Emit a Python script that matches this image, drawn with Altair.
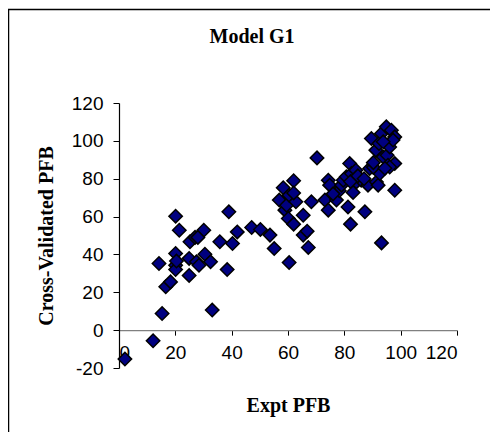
import altair as alt
import pandas as pd

expt = [2.1, 12.1, 15.3, 14.2, 16.6, 18.3, 20.1, 21.4, 20.1, 20.1, 20.1, 24.9, 24.9, 25.2,
        27.0, 27.5, 28.4, 30.1, 30.5, 32.5, 33.1, 35.8, 38.4, 39.0, 40.3, 42.0, 47.1, 50.2,
        53.6, 55.1, 56.9, 58.3, 58.9, 59.5, 60.1, 60.4, 60.4, 62.0, 62.0, 62.8, 62.0, 65.4,
        65.4, 66.8, 67.2, 68.3, 70.3, 73.1, 74.3, 74.3, 74.8, 77.2, 78.2, 79.0, 79.6, 80.7,
        81.3, 81.9, 82.2, 82.5, 83.1, 84.1, 84.3, 86.0, 87.3, 88.4, 89.0, 89.6, 91.2, 91.4,
        92.0, 92.6, 92.3, 93.2, 93.2, 93.8, 94.9, 95.2, 95.5, 96.1, 96.7, 97.9, 97.9, 97.9,
        97.3, 96.1, 90.3, 76.0, 82.2, 84.8, 87.0, 90.3, 93.8, 94.4, 28.0, 20.4]
cv = [-15.3, -5.6, 8.8, 35.2, 22.9, 25.5, 60.2, 52.8, 40.5, 34.3, 32.0, 28.9, 37.9, 46.7,
      49.0, 36.1, 34.3, 52.8, 40.1, 36.1, 10.6, 46.7, 32.0, 62.5, 45.8, 51.9, 54.2, 53.2,
      50.2, 43.1, 68.7, 75.2, 63.4, 66.0, 59.0, 35.7, 71.3, 56.0, 78.9, 67.8, 72.5, 60.7,
      50.2, 52.3, 43.7, 67.8, 91.0, 68.7, 79.2, 63.4, 76.6, 68.7, 73.6, 76.6, 79.2, 81.0,
      65.1, 88.0, 56.0, 82.7, 72.7, 84.5, 78.3, 79.2, 62.5, 76.6, 85.4, 101.2, 95.1, 78.3,
      76.6, 82.7, 98.6, 46.1, 103.9, 91.5, 107.4, 92.4, 87.1, 96.8, 105.6, 102.1, 88.0, 73.9,
      100.4, 86.2, 86.0, 72.0, 78.5, 81.5, 80.0, 88.5, 99.5, 85.5, 49.0, 36.5]

chart_title = "Model G1"

df = pd.DataFrame({"Expt PFB": expt, "Cross-Validated PFB": cv})

W, H = 338, 265
x_ticks = [0, 20, 40, 60, 80, 100, 120]
y_ticks = [-20, 0, 20, 40, 60, 80, 100, 120]

points = alt.Chart(df).mark_point(
    shape="diamond", filled=True, fill="#000080", stroke="black",
    strokeWidth=1.5, size=180, opacity=1, clip=False
).encode(
    x=alt.X("Expt PFB:Q",
            scale=alt.Scale(domain=[0, 120], nice=False, zero=False),
            axis=alt.Axis(values=x_ticks, grid=False, offset=-H * 20 / 140,
                          domainColor="#808080", domainWidth=1.2,
                          tickColor="black", tickSize=5,
                          labelFont="Liberation Sans", labelFontSize=19,
                          labelColor="black", labelPadding=8,
                          labelExpr="toString(datum.value)",
                          title="Expt PFB", titleFont="Liberation Serif",
                          titleFontSize=20, titleFontWeight="bold",
                          titleColor="black", titleBaseline="alphabetic",
                          titleY=81)),
    y=alt.Y("Cross-Validated PFB:Q",
            scale=alt.Scale(domain=[-20, 120], nice=False, zero=False),
            axis=alt.Axis(values=y_ticks, grid=False,
                          domainColor="black", domainWidth=1.2,
                          tickColor="black", tickSize=6,
                          labelFont="Liberation Sans", labelFontSize=19,
                          labelColor="black", labelPadding=10,
                          labelExpr="toString(datum.value)",
                          title="Cross-Validated PFB", titleFont="Liberation Serif",
                          titleFontSize=20, titleFontWeight="bold",
                          titleColor="black", titleBaseline="alphabetic",
                          titleX=-67, titleY=H / 2)),
)

one = alt.Data(values=[{}])

border = alt.Chart(one).mark_rect(
    fill=None, stroke="black", strokeWidth=1.5, clip=False
).encode(
    x=alt.value(-110.5), y=alt.value(-93.5),
    x2=alt.value(W + 60), y2=alt.value(H + 80)
)

title_mark = alt.Chart(one).mark_text(
    font="Liberation Serif", fontSize=20, fontWeight="bold", color="black",
    align="center", baseline="alphabetic", clip=False
).encode(
    x=alt.value(133), y=alt.value(-60), text=alt.value(chart_title)
)

chart = alt.layer(border, title_mark, points).properties(
    width=W, height=H,
    autosize=alt.AutoSizeParams(type="none"),
    padding={"left": 111, "top": 95, "right": 33, "bottom": 64},
).configure_view(stroke=None)

chart.save("out.html", embed_options={"renderer": "svg", "actions": False})
